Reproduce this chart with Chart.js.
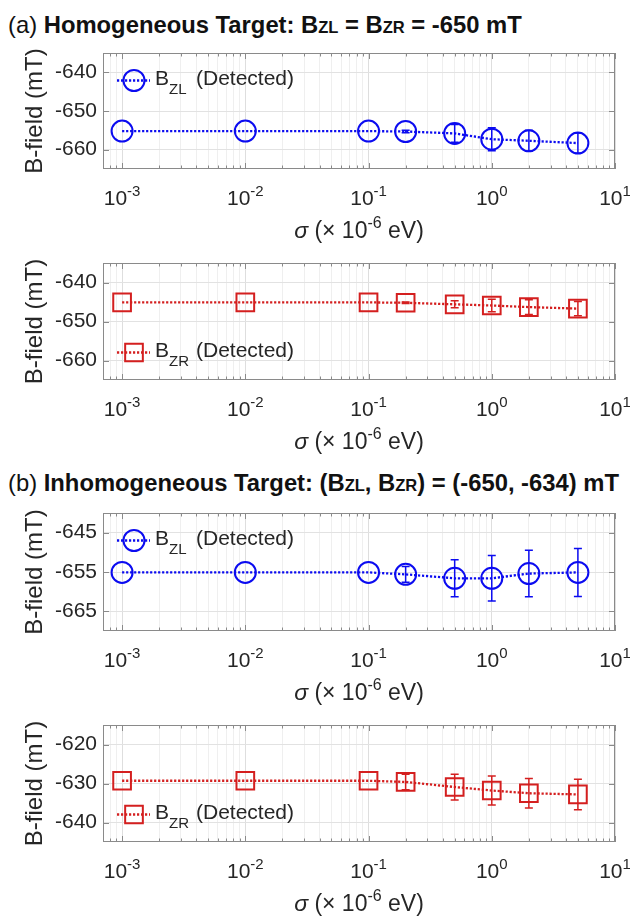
<!DOCTYPE html>
<html>
<head>
<meta charset="utf-8">
<script src="https://cdn.jsdelivr.net/npm/chart.js@4.4.0/dist/chart.umd.min.js"></script>
<style>
  body { margin: 0; background: #fff; }
  #wrap { position: relative; width: 630px; height: 918px; font-family: "Liberation Sans", Arial, sans-serif; color: #111; overflow: hidden; }
  canvas { position: absolute; left: 0; }
  .title { position: absolute; left: 8px; font-size: 23.8px; line-height: 24px; white-space: nowrap; }
  .title small { font-size: 16.5px; }
</style>
</head>
<body>
<div id="wrap">
  <div class="title" style="top:13px">(a) <b>Homogeneous Target: B<small>ZL</small> = B<small>ZR</small> = -650 mT</b></div>
  <div class="title" style="top:471px">(b) <b>Inhomogeneous Target: (B<small>ZL</small>, B<small>ZR</small>) = (-650, -634) mT</b></div>
  <canvas id="c1"></canvas>
  <canvas id="c2"></canvas>
  <canvas id="c3"></canvas>
  <canvas id="c4"></canvas>
</div>
<script>
// sigma values (x 10^-6 eV)
const sigma = [0.001, 0.01, 0.1, 0.2, 0.5, 1, 2, 5];
const xDecades = [0.001, 0.01, 0.1, 1, 10];
const xDecadeExp = ['-3', '-2', '-1', '0', '1'];

// (a) homogeneous target
const bzlHomo = [-655.2, -655.2, -655.2, -655.3, -655.8, -657.3, -657.7, -658.3];
const bzlHomoErr = [0, 0, 0, 0.3, 2.3, 3.0, 2.7, 2.6];
const bzrHomo = [-645.1, -645.1, -645.1, -645.2, -645.6, -645.9, -646.3, -646.7];
const bzrHomoErr = [0, 0, 0, 0.2, 0.9, 1.6, 1.9, 1.8];

// (b) inhomogeneous target
const bzlInhomo = [-655.1, -655.1, -655.1, -655.6, -656.6, -656.6, -655.4, -655.1];
const bzlInhomoErr = [0, 0, 0, 2.0, 4.7, 5.8, 5.9, 6.1];
const bzrInhomo = [-629.3, -629.3, -629.3, -629.6, -630.9, -631.8, -632.5, -632.8];
const bzrInhomoErr = [0, 0, 0, 2.0, 3.3, 3.7, 3.8, 3.9];

// y tick labels per panel
const yTicksA1 = [-660, -650, -640];
const yTicksA2 = [-660, -650, -640];
const yTicksB1 = [-665, -655, -645];
const yTicksB2 = [-640, -630, -620];

const FONT = '"Liberation Sans", Arial, sans-serif';
const TEXT = '#262626';
const BLUE = '#0b0bf0';
const RED = '#d41f1f';

Chart.defaults.font.family = FONT;

// all log ticks (decades + minors) inside the axis range
function logTicks(min, max) {
  const out = [];
  for (let e = -4; e <= 1; e++) {
    for (let m = 1; m <= 9; m++) {
      const v = m * Math.pow(10, e);
      if (v >= min * 0.999 && v <= max * 1.001) out.push({ value: v, major: m === 1 });
    }
  }
  return out;
}

function drawRich(ctx, parts, cx, baseY) {
  let total = 0;
  parts.forEach(p => { ctx.font = p.font; p.w = ctx.measureText(p.t).width; total += p.w; });
  let x = cx - total / 2;
  parts.forEach(p => { ctx.font = p.font; ctx.fillText(p.t, x, baseY + (p.dy || 0)); x += p.w; });
}

const decor = {
  id: 'decor',
  afterDatasetsDraw(chart) {
    const { ctx, scales: { x, y } } = chart;
    chart.data.datasets.forEach(ds => {
      ctx.save();
      ctx.strokeStyle = ds.borderColor;
      ctx.lineWidth = 1.5;
      ds.data.forEach((p, j) => {
        const e = ds.errors[j];
        if (!e) return;
        const px = x.getPixelForValue(p.x);
        const y1 = y.getPixelForValue(p.y + e);
        const y2 = y.getPixelForValue(p.y - e);
        ctx.beginPath();
        ctx.moveTo(px, y1); ctx.lineTo(px, y2);
        ctx.moveTo(px - 4, y1); ctx.lineTo(px + 4, y1);
        ctx.moveTo(px - 4, y2); ctx.lineTo(px + 4, y2);
        ctx.stroke();
      });
      ctx.restore();
    });
  },
  afterDraw(chart, args, opts) {
    const { ctx, chartArea: a, scales: { x, y } } = chart;
    ctx.save();

    // box and inward ticks
    ctx.strokeStyle = '#8a8a8a';
    ctx.lineWidth = 1;
    ctx.strokeRect(a.left + 0.5, a.top + 0.5, a.right - a.left - 1, a.bottom - a.top - 1);
    ctx.beginPath();
    x.ticks.forEach(t => {
      const px = Math.round(x.getPixelForValue(t.value)) + 0.5;
      const len = t.major ? 6 : 3.5;
      ctx.moveTo(px, a.bottom); ctx.lineTo(px, a.bottom - len);
      ctx.moveTo(px, a.top); ctx.lineTo(px, a.top + len);
    });
    y.ticks.forEach(t => {
      const py = Math.round(y.getPixelForValue(t.value)) + 0.5;
      ctx.moveTo(a.left, py); ctx.lineTo(a.left + 6, py);
      ctx.moveTo(a.right, py); ctx.lineTo(a.right - 6, py);
    });
    ctx.stroke();

    // x tick labels 10^n
    ctx.fillStyle = TEXT;
    ctx.textBaseline = 'alphabetic';
    xDecades.forEach((v, i) => {
      drawRich(ctx, [
        { t: '10', font: `21px ${FONT}` },
        { t: xDecadeExp[i], font: `15px ${FONT}`, dy: -9 }
      ], x.getPixelForValue(v), a.bottom + 36);
    });

    // x axis title
    drawRich(ctx, [
      { t: 'σ', font: `italic 23px ${FONT}` },
      { t: ' (× 10', font: `23px ${FONT}` },
      { t: '-6', font: `16px ${FONT}`, dy: -10 },
      { t: ' eV)', font: `23px ${FONT}` }
    ], (a.left + a.right) / 2, a.bottom + 69);

    // legend
    const ds = chart.data.datasets[0];
    const my = opts.legendAt === 'top' ? a.top + 27.5 : a.bottom - 27.5;
    const mx = a.left + 31;
    ctx.strokeStyle = ds.borderColor;
    ctx.lineWidth = ds.borderWidth;
    ctx.setLineDash(ds.borderDash);
    ctx.beginPath();
    ctx.moveTo(a.left + 14, my); ctx.lineTo(a.left + 47, my);
    ctx.stroke();
    ctx.setLineDash([]);
    ctx.lineWidth = 2;
    ctx.beginPath();
    if (ds.pointStyle === 'rect') {
      const s = ds.pointRadius * Math.SQRT1_2;
      ctx.rect(mx - s, my - s, 2 * s, 2 * s);
    } else {
      ctx.arc(mx, my, ds.pointRadius, 0, 2 * Math.PI);
    }
    ctx.stroke();
    ctx.fillStyle = TEXT;
    ctx.font = `21px ${FONT}`;
    ctx.fillText('B', a.left + 52, my + 4.5);
    const bw = ctx.measureText('B').width;
    ctx.font = `15px ${FONT}`;
    ctx.fillText(opts.sub, a.left + 52 + bw, my + 13.5);
    ctx.font = `21px ${FONT}`;
    ctx.fillText('(Detected)', a.left + 93, my + 4.5);

    ctx.restore();
  }
};

function makePanel(cfg) {
  const cv = document.getElementById(cfg.id);
  const h = cfg.bottom - cfg.top;
  cv.width = 630;
  cv.height = 20 + h + 85;
  cv.style.top = (cfg.top - 20) + 'px';

  return new Chart(cv, {
    type: 'line',
    data: {
      datasets: [{
        label: 'B' + cfg.sub + ' (Detected)',
        data: sigma.map((s, i) => ({ x: s, y: cfg.values[i] })),
        errors: cfg.errors,
        borderColor: cfg.color,
        borderWidth: 2.3,
        borderDash: [2.2, 1.8],
        pointStyle: cfg.marker,
        pointRadius: cfg.radius,
        pointBorderWidth: 2,
        pointBorderColor: cfg.color,
        pointBackgroundColor: 'rgba(0,0,0,0)',
        fill: false,
        tension: 0
      }]
    },
    options: {
      responsive: false,
      animation: false,
      devicePixelRatio: 1,
      layout: { padding: { top: 20, right: 15, left: 0, bottom: 0 } },
      plugins: {
        legend: { display: false },
        tooltip: { enabled: false },
        decor: { sub: cfg.sub, legendAt: cfg.legendAt }
      },
      scales: {
        x: {
          type: 'logarithmic',
          min: 7e-4,
          max: 10,
          afterBuildTicks: s => { s.ticks = logTicks(s.min, s.max); },
          afterFit: s => { s.height = 85; },
          ticks: { display: false },
          grid: { drawTicks: false, color: c => (c.tick && c.tick.major) ? '#dedede' : '#efefef' },
          border: { display: false }
        },
        y: {
          min: cfg.yMin,
          max: cfg.yMax,
          afterBuildTicks: s => { s.ticks = cfg.yTicks.map(v => ({ value: v })); },
          afterFit: s => { s.width = 103; },
          ticks: { color: TEXT, font: { size: 21 }, padding: 6 },
          grid: { drawTicks: false, color: '#e2e2e2' },
          border: { display: false },
          title: { display: true, text: 'B-field (mT)', color: TEXT, font: { size: 24 }, padding: { top: 21, bottom: 0 } }
        }
      }
    },
    plugins: [decor]
  });
}

makePanel({ id: 'c1', top: 53, bottom: 169, values: bzlHomo, errors: bzlHomoErr, yMin: -665, yMax: -635, yTicks: yTicksA1, color: BLUE, marker: 'circle', radius: 10.5, sub: 'ZL', legendAt: 'top' });
makePanel({ id: 'c2', top: 263, bottom: 380, values: bzrHomo, errors: bzrHomoErr, yMin: -665, yMax: -635, yTicks: yTicksA2, color: RED, marker: 'rect', radius: 12.5, sub: 'ZR', legendAt: 'bottom' });
makePanel({ id: 'c3', top: 513, bottom: 631, values: bzlInhomo, errors: bzlInhomoErr, yMin: -670, yMax: -640, yTicks: yTicksB1, color: BLUE, marker: 'circle', radius: 10.5, sub: 'ZL', legendAt: 'top' });
makePanel({ id: 'c4', top: 725, bottom: 842, values: bzrInhomo, errors: bzrInhomoErr, yMin: -645, yMax: -615, yTicks: yTicksB2, color: RED, marker: 'rect', radius: 12.5, sub: 'ZR', legendAt: 'bottom' });
</script>
</body>
</html>
